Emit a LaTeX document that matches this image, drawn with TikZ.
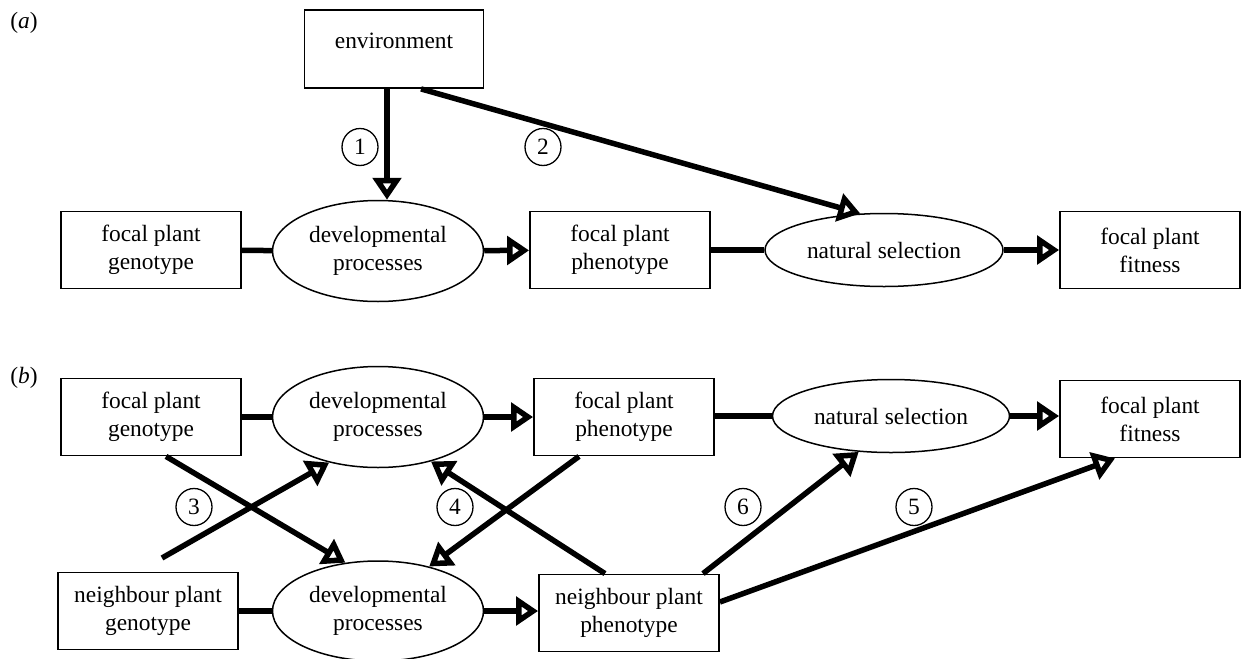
\documentclass[tikz,border=0pt]{standalone}
\usepackage{fontspec}
\setmainfont{Liberation Serif}
\usepackage{tikz}
\usetikzlibrary{arrows.meta, shapes.geometric}
\tikzset{
    bx/.style={draw, line width=1.8pt, minimum width=180pt, minimum height=77pt, inner sep=0pt, align=center},
    el/.style={draw, ellipse, line width=1.5pt, inner sep=0pt, align=center},
    nb/.style={draw, ellipse, line width=1.3pt, minimum width=36pt, minimum height=37pt, inner sep=0pt},
    ln/.style={line width=5.5pt},
    fl/.style={line width=5.5pt, -{Triangle[open, length=22pt, width=28pt, line width=7pt 0]}},
}
\newcommand*{\fsz}{\fontsize{23.4}{28}\selectfont}

\begin{document}
\begin{tikzpicture}[x=1pt, y=-1pt, font=\fsz]
    \useasboundingbox (0, 0) rectangle (1243, 659);
    % (a)
    \node (la) at (24, 23) {(\textit{a})};
    \node[bx, minimum width=179pt, minimum height=78pt, text depth=16pt] (env) at (394, 49) {environment};
    \node[bx] (fga) at (151, 250) {focal plant\\genotype};
    \node[el, minimum width=211pt, minimum height=101pt] (dva) at (378, 251) {developmental\\processes};
    \node[bx] (fpa) at (620, 250) {focal plant\\phenotype};
    \node[el, minimum width=238pt, minimum height=73pt] (nsa) at (884, 250) {natural selection};
    \node[bx] (fta) at (1150, 250) {focal plant\\fitness};
    \node[nb] (n1) at (360, 147) {1};
    \node[nb] (n2) at (543, 147) {2};
    \draw[ln] (fga) -- (dva);
    \draw[fl] (dva) -- (fpa);
    \draw[ln] (fpa) -- (nsa);
    \draw[fl] (nsa) -- (fta);
    \draw[fl] ([xshift=-7pt]env.south) -- ([xshift=-7pt]env.south |- dva.north);
    \draw[fl] ([xshift=27pt]env.south) -- (nsa.123);
    % (b)
    \node (lb) at (24, 378) {(\textit{b})};
    \node[bx] (fgb) at (151, 417) {focal plant\\genotype};
    \node[el, minimum width=211pt, minimum height=101pt] (dvb) at (378, 417) {developmental\\processes};
    \node[bx] (fpb) at (624, 417) {focal plant\\phenotype};
    \node[el, minimum width=237pt, minimum height=73pt] (nsb) at (891, 416) {natural selection};
    \node[bx] (ftb) at (1150, 419) {focal plant\\fitness};
    \node[bx] (ngb) at (148, 611) {neighbour plant\\genotype};
    \node[el, minimum width=211pt, minimum height=100pt] (dvc) at (378, 611) {developmental\\processes};
    \node[bx] (npb) at (629, 613) {neighbour plant\\phenotype};
    \node[nb] (n3) at (194, 507) {3};
    \node[nb] (n4) at (455, 507) {4};
    \node[nb] (n6) at (743, 507) {6};
    \node[nb] (n5) at (914, 507) {5};
    \coordinate (s3) at (162, 558);
    \draw[ln] (fgb.east |- dvb) -- (dvb);
    \draw[fl] (dvb) -- (dvb -| fpb.west);
    \draw[ln] (fpb.east |- nsb) -- (nsb);
    \draw[fl] (nsb) -- (nsb -| ftb.west);
    \draw[ln] (ngb.east |- dvc) -- (dvc);
    \draw[fl] (dvc) -- (dvc -| npb.west);
    \draw[fl] ([xshift=15pt]fgb.south) -- (dvc.124);
    \draw[fl] (s3) -- (dvb.223);
    \draw[fl] ([xshift=-45pt]fpb.south) -- (dvc.41);
    \draw[fl] ([xshift=-24pt]npb.north) -- (dvb.320);
    \draw[fl] ([xshift=74pt]npb.north) -- (nsb.228);
    \draw[fl] ([yshift=11pt]npb.east) -- ([xshift=-35pt]ftb.south);
\end{tikzpicture}
\end{document}
